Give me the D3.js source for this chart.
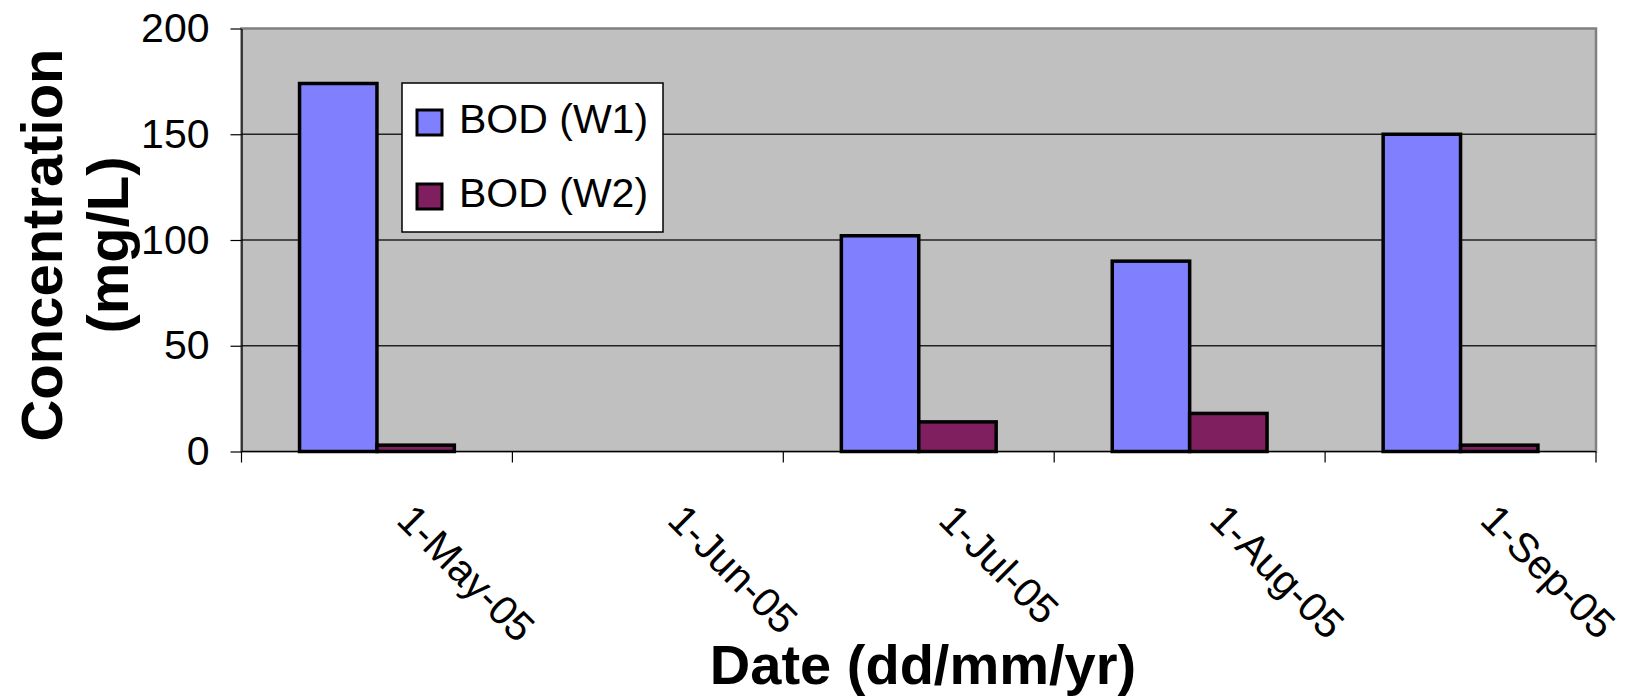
<!DOCTYPE html>
<html>
<head>
<meta charset="utf-8">
<script src="https://cdn.jsdelivr.net/npm/d3@7"></script>
<style>
  body { margin: 0; background: #fff; }
  text { font-family: "Liberation Sans", Arial, sans-serif; fill: #000; }
</style>
</head>
<body>
<div id="container"></div>
<script>
// data
var categories = ["1-May-05", "1-Jun-05", "1-Jul-05", "1-Aug-05", "1-Sep-05"];
var series = ["BOD (W1)", "BOD (W2)"];
var w1 = [174, null, 102, 90, 150];
var w2 = [3, null, 14, 18, 3];
var yTicks = [0, 50, 100, 150, 200];
var colors = ["#8080FF", "#801F60"];

var width = 1625, height = 698;
var plot = { left: 241.5, right: 1596, top: 28.5, bottom: 451.5 };

var svg = d3.select("#container").append("svg")
    .attr("width", width)
    .attr("height", height);

var x0 = d3.scaleBand()
    .domain(categories)
    .range([plot.left, plot.right])
    .padding(0);

// excel gap width 150% -> 0.75 bar on each side
var x1 = d3.scaleBand()
    .domain(series)
    .range([0, x0.bandwidth()])
    .paddingInner(0)
    .paddingOuter(0.75);

var y = d3.scaleLinear()
    .domain([0, 200])
    .range([plot.bottom, plot.top]);

// plot area background
svg.append("rect")
    .attr("x", plot.left)
    .attr("y", plot.top)
    .attr("width", plot.right - plot.left)
    .attr("height", plot.bottom - plot.top)
    .attr("fill", "#C0C0C0")
    .attr("stroke", "#808080")
    .attr("stroke-width", 2.5);

// gridlines
svg.append("g")
    .selectAll("line")
    .data(yTicks.filter(function(d) { return d > 0 && d < 200; }))
    .enter().append("line")
    .attr("x1", plot.left)
    .attr("x2", plot.right)
    .attr("y1", function(d) { return y(d); })
    .attr("y2", function(d) { return y(d); })
    .attr("stroke", "#222")
    .attr("stroke-width", 1.3);

// bars
var rows = categories.map(function(c, i) {
    return { cat: c, vals: [w1[i], w2[i]] };
});

var groups = svg.append("g")
    .selectAll("g")
    .data(rows)
    .enter().append("g")
    .attr("transform", function(d) { return "translate(" + x0(d.cat) + ",0)"; });

groups.selectAll("rect")
    .data(function(d) {
        return d.vals.map(function(v, j) { return { s: series[j], v: v, j: j }; })
            .filter(function(e) { return e.v != null; });
    })
    .enter().append("rect")
    .attr("x", function(d) { return x1(d.s); })
    .attr("width", x1.bandwidth())
    .attr("y", function(d) { return y(d.v); })
    .attr("height", function(d) { return y(0) - y(d.v); })
    .attr("fill", function(d) { return colors[d.j]; })
    .attr("stroke", "#000")
    .attr("stroke-width", 3.5);

// y axis
var yAxis = svg.append("g")
    .attr("transform", "translate(" + plot.left + ",0)")
    .call(d3.axisLeft(y).tickValues(yTicks).tickSize(11).tickPadding(21).tickSizeOuter(0));
yAxis.select(".domain").attr("stroke", "#000").attr("stroke-width", 1.2);
yAxis.selectAll(".tick line").attr("stroke", "#000").attr("stroke-width", 1.2);
yAxis.selectAll(".tick text")
    .attr("font-size", 41)
    .attr("font-family", "'Liberation Sans', Arial, sans-serif")
    .attr("fill", "#000");

// x axis line and ticks at category boundaries
svg.append("line")
    .attr("x1", plot.left).attr("x2", plot.right)
    .attr("y1", plot.bottom).attr("y2", plot.bottom)
    .attr("stroke", "#000").attr("stroke-width", 1.2);

var bounds = categories.map(function(c) { return x0(c); }).concat([x0.range()[1]]);
svg.append("g")
    .selectAll("line")
    .data(bounds)
    .enter().append("line")
    .attr("x1", function(d) { return d; })
    .attr("x2", function(d) { return d; })
    .attr("y1", plot.bottom)
    .attr("y2", plot.bottom + 11)
    .attr("stroke", "#000")
    .attr("stroke-width", 1.2);

// rotated category labels
svg.append("g")
    .selectAll("text")
    .data(categories)
    .enter().append("text")
    .attr("transform", function(d) {
        return "translate(" + (x0(d) + x0.bandwidth() / 2 + 18) + ",522) rotate(45)";
    })
    .attr("font-size", 41)
    .attr("text-anchor", "start")
    .text(function(d) { return d; });

// axis titles
var yTitle = svg.append("text")
    .attr("transform", "translate(62,245) rotate(-90)")
    .attr("text-anchor", "middle")
    .attr("font-size", 58)
    .attr("font-weight", "bold");
yTitle.append("tspan").attr("x", 0).attr("y", 0).text("Concentration");
yTitle.append("tspan").attr("x", 0).attr("y", 66).text("(mg/L)");

svg.append("text")
    .attr("x", 923)
    .attr("y", 684)
    .attr("text-anchor", "middle")
    .attr("font-size", 56)
    .attr("font-weight", "bold")
    .text("Date (dd/mm/yr)");

// legend
var legend = svg.append("g").attr("transform", "translate(402,83)");
legend.append("rect")
    .attr("width", 261)
    .attr("height", 149)
    .attr("fill", "#fff")
    .attr("stroke", "#000")
    .attr("stroke-width", 1.5);

var items = legend.selectAll("g.item")
    .data(series)
    .enter().append("g")
    .attr("class", "item")
    .attr("transform", function(d, i) { return "translate(0," + (i * 74) + ")"; });

items.append("rect")
    .attr("x", 15)
    .attr("y", 27)
    .attr("width", 25)
    .attr("height", 25)
    .attr("fill", function(d, i) { return colors[i]; })
    .attr("stroke", "#000")
    .attr("stroke-width", 3);

items.append("text")
    .attr("x", 57)
    .attr("y", 50)
    .attr("font-size", 41)
    .text(function(d) { return d; });
</script>
</body>
</html>
